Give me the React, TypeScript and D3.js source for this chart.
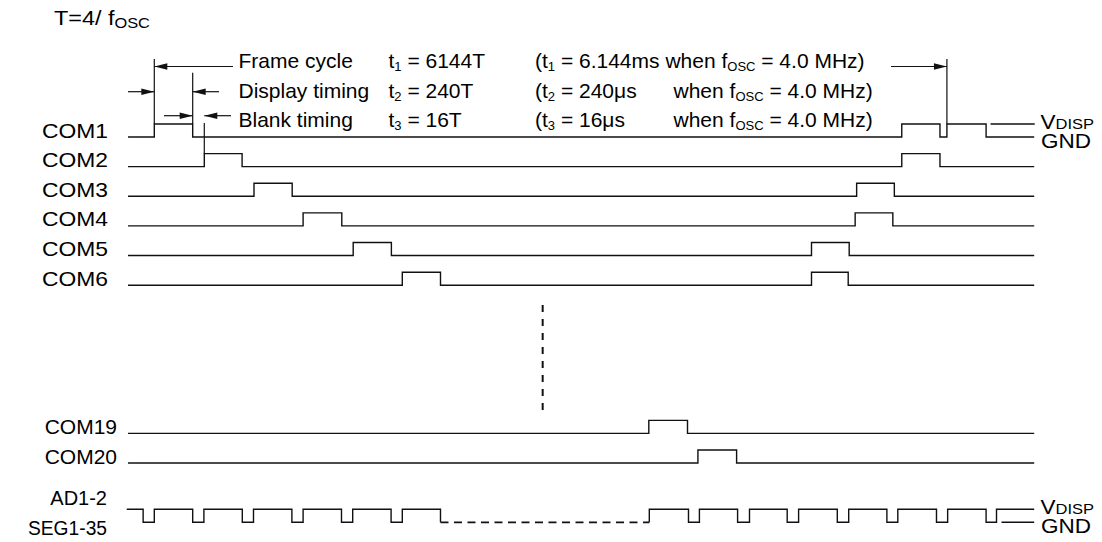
import React from "react";
import * as d3 from "d3";

const W = 1102;
const H = 542;

// Signal names and the row each sits on
const comLabels = ["COM1", "COM2", "COM3", "COM4", "COM5", "COM6", "COM19", "COM20"];
const comRows = [0, 1, 2, 3, 4, 5, 10, 11];
// High pulses per COM line, in slot units
const comPulses: [number, number][][] = [
  [[0, 0.774], [15.07, 15.84], [15.98, 16.77]],
  [[1.008, 1.77], [15.07, 15.84]],
  [[2.01, 2.78], [14.16, 14.92]],
  [[3.0, 3.78], [14.13, 14.89]],
  [[4.01, 4.78], [13.25, 14.01]],
  [[5.0, 5.77], [13.25, 13.99]],
  [[9.97, 10.75]],
  [[10.96, 11.74]],
];
const comSpan: [number, number] = [-0.53, 17.74];

// Segment line (AD1-2 / SEG1-35): low pulses
const segLabels = ["AD1-2", "SEG1-35"];
const segRow = 13;
const segLowsLeft: [number, number][] = [
  [-0.225, 0], [0.774, 1], [1.774, 2], [2.774, 3], [3.774, 4], [4.774, 5],
];
const segGap: [number, number] = [5.77, 9.98];
const segLowsRight: [number, number][] = [
  [10.77, 10.99], [11.76, 12.0], [12.76, 12.99], [13.77, 14.0], [14.77, 14.99], [15.77, 15.995], [16.77, 16.98],
];
const segSpan: [number, number] = [-0.556, 17.74];

// Reference level stubs
const vdispRefCom1: [number, number] = [16.86, 17.75];
const gndRefSeg: [number, number] = [17.08, 17.74];

// Timing annotation texts
const timingNames = ["Frame cycle", "Display timing", "Blank timing"];
const timingSub = ["1", "2", "3"];
const timingValues = ["6144T", "240T", "16T"];
const timingReal = ["6.144ms", "240\u03bcs", "16\u03bcs"];

const PULSE_H = 13;
const FONT = "Arial, 'Liberation Sans', Helvetica, sans-serif";
const STROKE = "#111";

export default function App() {
  const x = d3.scaleLinear().domain([0, 16]).range([154.3, 947.9]);
  const y = d3.scaleLinear().domain([0, 13]).range([137, 522.3]);
  const line = d3.line<[number, number]>().x((d) => d[0]).y((d) => d[1]);

  const comPath = (row: number, pulses: [number, number][]) => {
    const lo = y(row);
    const hi = lo - PULSE_H;
    const pts: [number, number][] = [[x(comSpan[0]), lo]];
    pulses.forEach(([a, b]) => {
      pts.push([x(a), lo], [x(a), hi], [x(b), hi], [x(b), lo]);
    });
    pts.push([x(comSpan[1]), lo]);
    return line(pts) || "";
  };

  const segLo = y(segRow);
  const segHi = segLo - PULSE_H;
  const segLeftPts: [number, number][] = [[x(segSpan[0]), segHi]];
  segLowsLeft.forEach(([a, b]) => {
    segLeftPts.push([x(a), segHi], [x(a), segLo], [x(b), segLo], [x(b), segHi]);
  });
  segLeftPts.push([x(segGap[0]), segHi], [x(segGap[0]), segLo]);
  const segRightPts: [number, number][] = [[x(segGap[1]), segLo], [x(segGap[1]), segHi]];
  segLowsRight.forEach(([a, b]) => {
    segRightPts.push([x(a), segHi], [x(a), segLo], [x(b), segLo], [x(b), segHi]);
  });
  segRightPts.push([x(segSpan[1]), segHi]);

  const arrowHead = (tipX: number, yy: number, dir: 1 | -1) => {
    const L = 13, hw = 3.2;
    return `M${tipX},${yy} L${tipX - dir * L},${yy - hw} L${tipX - dir * L},${yy + hw} Z`;
  };

  const rowY = [67.5, 97.5, 126.5];
  const arrowY = [66.5, 91.7, 115.7];
  const com1Lo = y(0);
  const com1Hi = com1Lo - PULSE_H;
  const com2Lo = y(1);
  const com2Hi = com2Lo - PULSE_H;

  return (
    <svg
      width={W}
      height={H}
      viewBox={`0 0 ${W} ${H}`}
      style={{ position: "absolute", left: 0, top: 0, background: "#fff" }}
      fontFamily={FONT}
    >
      <rect width={W} height={H} fill="#fff" />
      {/* Title */}
      <g transform="translate(54,25) scale(1.17,1)">
        <text x={0} y={0} fontSize={20} fill="#000">
          T=4/ f<tspan fontSize={14} dy={3}>OSC</tspan>
        </text>
      </g>

      {/* COM signals */}
      {comLabels.map((name, i) => {
        const wide = comRows[i] < 10;
        return (
          <g key={name}>
            <text
              x={wide ? 108 : 117}
              y={y(comRows[i]) + 0.5}
              fontSize={21}
              textAnchor="end"
              fill="#000"
              {...(wide ? { textLength: 66, lengthAdjust: "spacingAndGlyphs" } : {})}
            >
              {name}
            </text>
            <path d={comPath(comRows[i], comPulses[i])} fill="none" stroke={STROKE} strokeWidth={1.4} />
          </g>
        );
      })}

      {/* COM1 VDISP stub */}
      <line x1={x(vdispRefCom1[0])} x2={x(vdispRefCom1[1])} y1={com1Hi} y2={com1Hi} stroke={STROKE} strokeWidth={1.4} />

      {/* Segment signal */}
      <path d={line(segLeftPts) || ""} fill="none" stroke={STROKE} strokeWidth={1.4} />
      <line x1={x(segGap[0])} x2={x(segGap[1])} y1={segLo} y2={segLo} stroke={STROKE} strokeWidth={1.8} strokeDasharray="8,5.5" />
      <path d={line(segRightPts) || ""} fill="none" stroke={STROKE} strokeWidth={1.4} />
      <line x1={x(gndRefSeg[0])} x2={x(gndRefSeg[1])} y1={segLo} y2={segLo} stroke={STROKE} strokeWidth={1.4} />
      <text x={107} y={505} fontSize={20} textAnchor="end" fill="#000">{segLabels[0]}</text>
      <text x={107} y={535} fontSize={20} textAnchor="end" fill="#000" textLength={79} lengthAdjust="spacingAndGlyphs">{segLabels[1]}</text>

      {/* Level labels */}
      {[[com1Hi, com1Lo], [segHi, segLo]].map(([hi, lo], i) => (
        <g key={i}>
          <g transform={`translate(1040.5,${hi + 4.5}) scale(1.1,1)`}>
            <text x={0} y={0} fontSize={20.5} fill="#000">
              V<tspan fontSize={15} dy={0.5}>DISP</tspan>
            </text>
          </g>
          <text x={1041} y={lo + 11} fontSize={20.5} fill="#000" textLength={50} lengthAdjust="spacingAndGlyphs">GND</text>
        </g>
      ))}

      {/* Vertical dashed continuation */}
      <line x1={x(7.83)} x2={x(7.83)} y1={y(5.67)} y2={y(9.24)} stroke={STROKE} strokeWidth={2} strokeDasharray="7,7" />

      {/* Timing reference verticals */}
      <line x1={x(0)} x2={x(0)} y1={59} y2={com1Hi} stroke={STROKE} strokeWidth={1.2} />
      <line x1={x(15.98)} x2={x(15.98)} y1={59} y2={com1Hi} stroke={STROKE} strokeWidth={1.2} />
      <line x1={x(0.774)} x2={x(0.774)} y1={72.7} y2={com1Hi} stroke={STROKE} strokeWidth={1.2} />
      <line x1={x(1.008)} x2={x(1.008)} y1={123} y2={com2Hi} stroke={STROKE} strokeWidth={1.2} />

      {/* Frame cycle arrows */}
      <line x1={x(0)} x2={233} y1={arrowY[0]} y2={arrowY[0]} stroke={STROKE} strokeWidth={1.2} />
      <path d={arrowHead(x(0), arrowY[0], -1)} fill={STROKE} />
      <line x1={891} x2={x(15.98)} y1={arrowY[0]} y2={arrowY[0]} stroke={STROKE} strokeWidth={1.2} />
      <path d={arrowHead(x(15.98), arrowY[0], 1)} fill={STROKE} />
      {/* Display timing arrows */}
      <line x1={128} x2={x(0)} y1={arrowY[1]} y2={arrowY[1]} stroke={STROKE} strokeWidth={1.2} />
      <path d={arrowHead(x(0), arrowY[1], 1)} fill={STROKE} />
      <line x1={219} x2={x(0.774)} y1={arrowY[1]} y2={arrowY[1]} stroke={STROKE} strokeWidth={1.2} />
      <path d={arrowHead(x(0.774), arrowY[1], -1)} fill={STROKE} />
      {/* Blank timing arrows */}
      <line x1={164} x2={x(0.774)} y1={arrowY[2]} y2={arrowY[2]} stroke={STROKE} strokeWidth={1.2} />
      <path d={arrowHead(x(0.774), arrowY[2], 1)} fill={STROKE} />
      <line x1={231} x2={x(1.008)} y1={arrowY[2]} y2={arrowY[2]} stroke={STROKE} strokeWidth={1.2} />
      <path d={arrowHead(x(1.008), arrowY[2], -1)} fill={STROKE} />

      {/* Timing texts */}
      {timingNames.map((n, i) => (
        <g key={n} fontSize={21} fill="#000">
          <text x={238.5} y={rowY[i]}>{n}</text>
          <text x={388.5} y={rowY[i]}>
            t<tspan fontSize={13} dy={3}>{timingSub[i]}</tspan>
            <tspan dy={-3}> = {timingValues[i]}</tspan>
          </text>
          {i === 0 ? (
            <text x={535} y={rowY[i]}>
              (t<tspan fontSize={13} dy={3}>{timingSub[i]}</tspan>
              <tspan dy={-3}> = {timingReal[i]} when f</tspan>
              <tspan fontSize={13} dy={3}>OSC</tspan>
              <tspan dy={-3}> = 4.0 MHz)</tspan>
            </text>
          ) : (
            <>
              <text x={535} y={rowY[i]}>
                (t<tspan fontSize={13} dy={3}>{timingSub[i]}</tspan>
                <tspan dy={-3}> = {timingReal[i]}</tspan>
              </text>
              <text x={673.5} y={rowY[i]}>
                when f<tspan fontSize={13} dy={3}>OSC</tspan>
                <tspan dy={-3}> = 4.0 MHz)</tspan>
              </text>
            </>
          )}
        </g>
      ))}
    </svg>
  );
}
